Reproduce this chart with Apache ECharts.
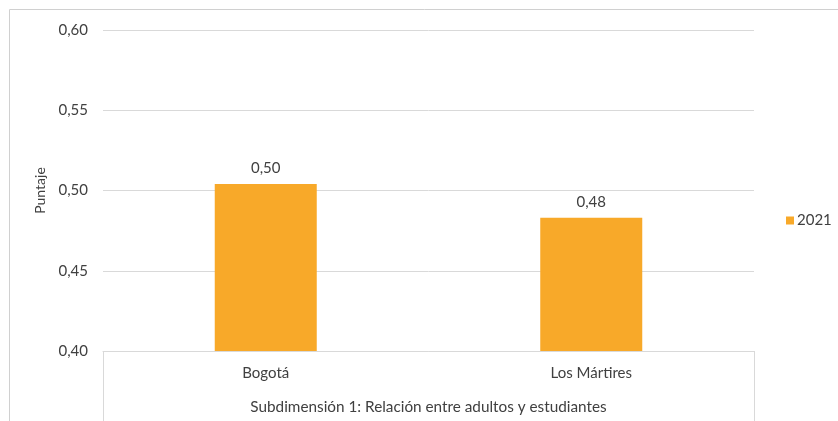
<!DOCTYPE html>
<html>
<head>
<meta charset="utf-8">
<script src="https://cdn.jsdelivr.net/npm/echarts@6/dist/echarts.min.js"></script>
<style>html,body{margin:0;padding:0;background:#fff}#c{width:838px;height:421px}</style>
</head>
<body>
<div id="c"></div>
<script>
const categories = ['Bogotá', 'Los Mártires'];
const groupLabel = ['Subdimensión 1: Relación entre adultos y estudiantes'];
const seriesName = '2021';
const values = [0.504, 0.483];
const yTicks = { min: 0.40, max: 0.60, interval: 0.05 };

const fmt = v => v.toFixed(2).replace('.', ',');
const font = 'Lato, "Open Sans", sans-serif';
const txt = '#404040';
const gridC = '#d9d9d9';
const fs = 15;

const chart = echarts.init(document.getElementById('c'));
chart.setOption({
  animation: false,
  textStyle: { fontFamily: font },
  graphic: [{
    type: 'rect', silent: true,
    shape: { x: 9.5, y: 9.5, width: 1000, height: 600 },
    style: { fill: 'none', stroke: '#d0d0d0', lineWidth: 1 }
  }],
  grid: { left: 103, right: 84, top: 30, bottom: 70, containLabel: false },
  legend: {
    data: [seriesName], left: 781, top: 208, itemWidth: 8, itemHeight: 8, itemGap: 4,
    icon: 'rect',
    textStyle: { color: txt, fontSize: fs, fontFamily: font, padding: [0, 0, 0, -2] }
  },
  xAxis: [{
    type: 'category', data: categories, position: 'bottom',
    axisLine: { lineStyle: { color: gridC } },
    axisTick: { show: false },
    axisLabel: { color: txt, fontSize: fs, margin: 15, fontFamily: font }
  }, {
    type: 'category', data: groupLabel, position: 'bottom',
    axisLine: { show: false },
    axisTick: { show: true, length: 75, lineStyle: { color: gridC } },
    axisLabel: { color: txt, fontSize: 15.3, margin: 49, fontFamily: font }
  }],
  yAxis: {
    type: 'value', min: yTicks.min, max: yTicks.max, interval: yTicks.interval,
    name: 'Puntaje', nameLocation: 'middle', nameGap: 55, nameRotate: 90,
    nameTextStyle: { color: txt, fontSize: 14, fontFamily: font },
    axisLine: { show: false }, axisTick: { show: false },
    splitLine: { lineStyle: { color: gridC } },
    axisLabel: { color: txt, fontSize: fs, margin: 15, formatter: fmt, fontFamily: font }
  },
  series: [{
    name: seriesName, type: 'bar', xAxisIndex: 0, data: values,
    barWidth: 102,
    itemStyle: { color: '#f8a929' },
    label: { show: true, position: 'top', distance: 8, color: txt, fontSize: fs,
      fontFamily: font, formatter: p => fmt(p.value) }
  }]
});
</script>
</body>
</html>
